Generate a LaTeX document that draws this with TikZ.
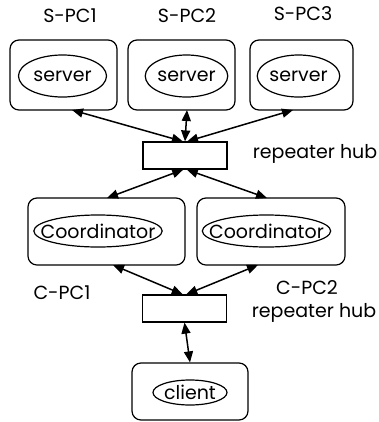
\documentclass[tikz,border=0pt]{standalone}
\usepackage{fontspec}
\setmainfont{Poppins}
\usetikzlibrary{shapes.geometric,arrows.meta}

\begin{document}
\begin{tikzpicture}[scale=0.3514]
\tikzstyle{every node}+=[inner sep=0pt,font=\fontsize{19}{21}\selectfont]
\tikzstyle{pcbox}=[draw,rounded corners=9pt,line width=1.2pt]
\tikzstyle{proc}=[draw,ellipse,line width=1.2pt]
\tikzstyle{hubbox}=[draw,rectangle,line width=1.2pt,minimum width=84pt,minimum height=27pt]
\tikzstyle{link}=[{Triangle[length=11pt,width=9pt]}-{Triangle[length=11pt,width=9pt]},line width=1.5pt]
\useasboundingbox (0,0) rectangle (37.9,-42.2);
\node [pcbox,minimum width=107pt,minimum height=70pt] (spc1) at (6.35,-7.5) {};
\node [proc,minimum width=88pt,minimum height=42pt] (srv1) at (6.25,-7.6) {server};
\node (spc1l) at (7.0,-1.6) {S-PC1};
\node [pcbox,minimum width=107pt,minimum height=70pt] (spc2) at (18.15,-7.5) {};
\node [proc,minimum width=74pt,minimum height=42pt] (srv2) at (18.65,-7.6) {server};
\node (spc2l) at (18.7,-1.6) {S-PC2};
\node [pcbox,minimum width=103pt,minimum height=70pt] (spc3) at (30.15,-7.5) {};
\node [proc,minimum width=77pt,minimum height=42pt] (srv3) at (29.85,-7.6) {server};
\node (spc3l) at (30.3,-1.4) {S-PC3};
\node [hubbox] (hub1) at (18.5,-15.55) {};
\node (hub1l) at (31.5,-15.4) {repeater hub};
\node [pcbox,minimum width=157pt,minimum height=67pt] (cpc1) at (10.65,-23.15) {};
\node [proc,inner xsep=-12pt,minimum width=120pt,minimum height=32pt] (coord1) at (9.8,-23.1) {Coordinator};
\node (cpc1l) at (6.2,-29.3) {C-PC1};
\node [pcbox,minimum width=148pt,minimum height=67pt] (cpc2) at (27.1,-23.15) {};
\node [proc,inner xsep=-12pt,minimum width=117pt,minimum height=32pt] (coord2) at (26.65,-23.1) {Coordinator};
\node (cpc2l) at (30.7,-28.8) {C-PC2};
\node [hubbox] (hub2) at (18.45,-30.85) {};
\node (hub2l) at (31.4,-31.3) {repeater hub};
\node [pcbox,minimum width=116pt,minimum height=57pt] (cli) at (19.0,-39.15) {};
\node [proc,inner ysep=-2pt,minimum width=74pt,minimum height=25pt] (client) at (19.0,-39.25) {client};
\draw [link] ([xshift=-6pt]hub1.north) -- (7.2,-11.0);
\draw [link] ([xshift=0pt]hub1.north) -- (18.7,-11.0);
\draw [link] ([xshift=6pt]hub1.north) -- (29.3,-11.0);
\draw [link] ([xshift=-5pt]hub1.south) -- (10.7,-19.8);
\draw [link] ([xshift=5pt]hub1.south) -- (26.7,-19.8);
\draw [link] ([xshift=-5pt]hub2.north) -- (11.3,-26.5);
\draw [link] ([xshift=5pt]hub2.north) -- (25.8,-26.5);
\draw [link] (hub2.south) -- (cli.north);
\end{tikzpicture}
\end{document}
